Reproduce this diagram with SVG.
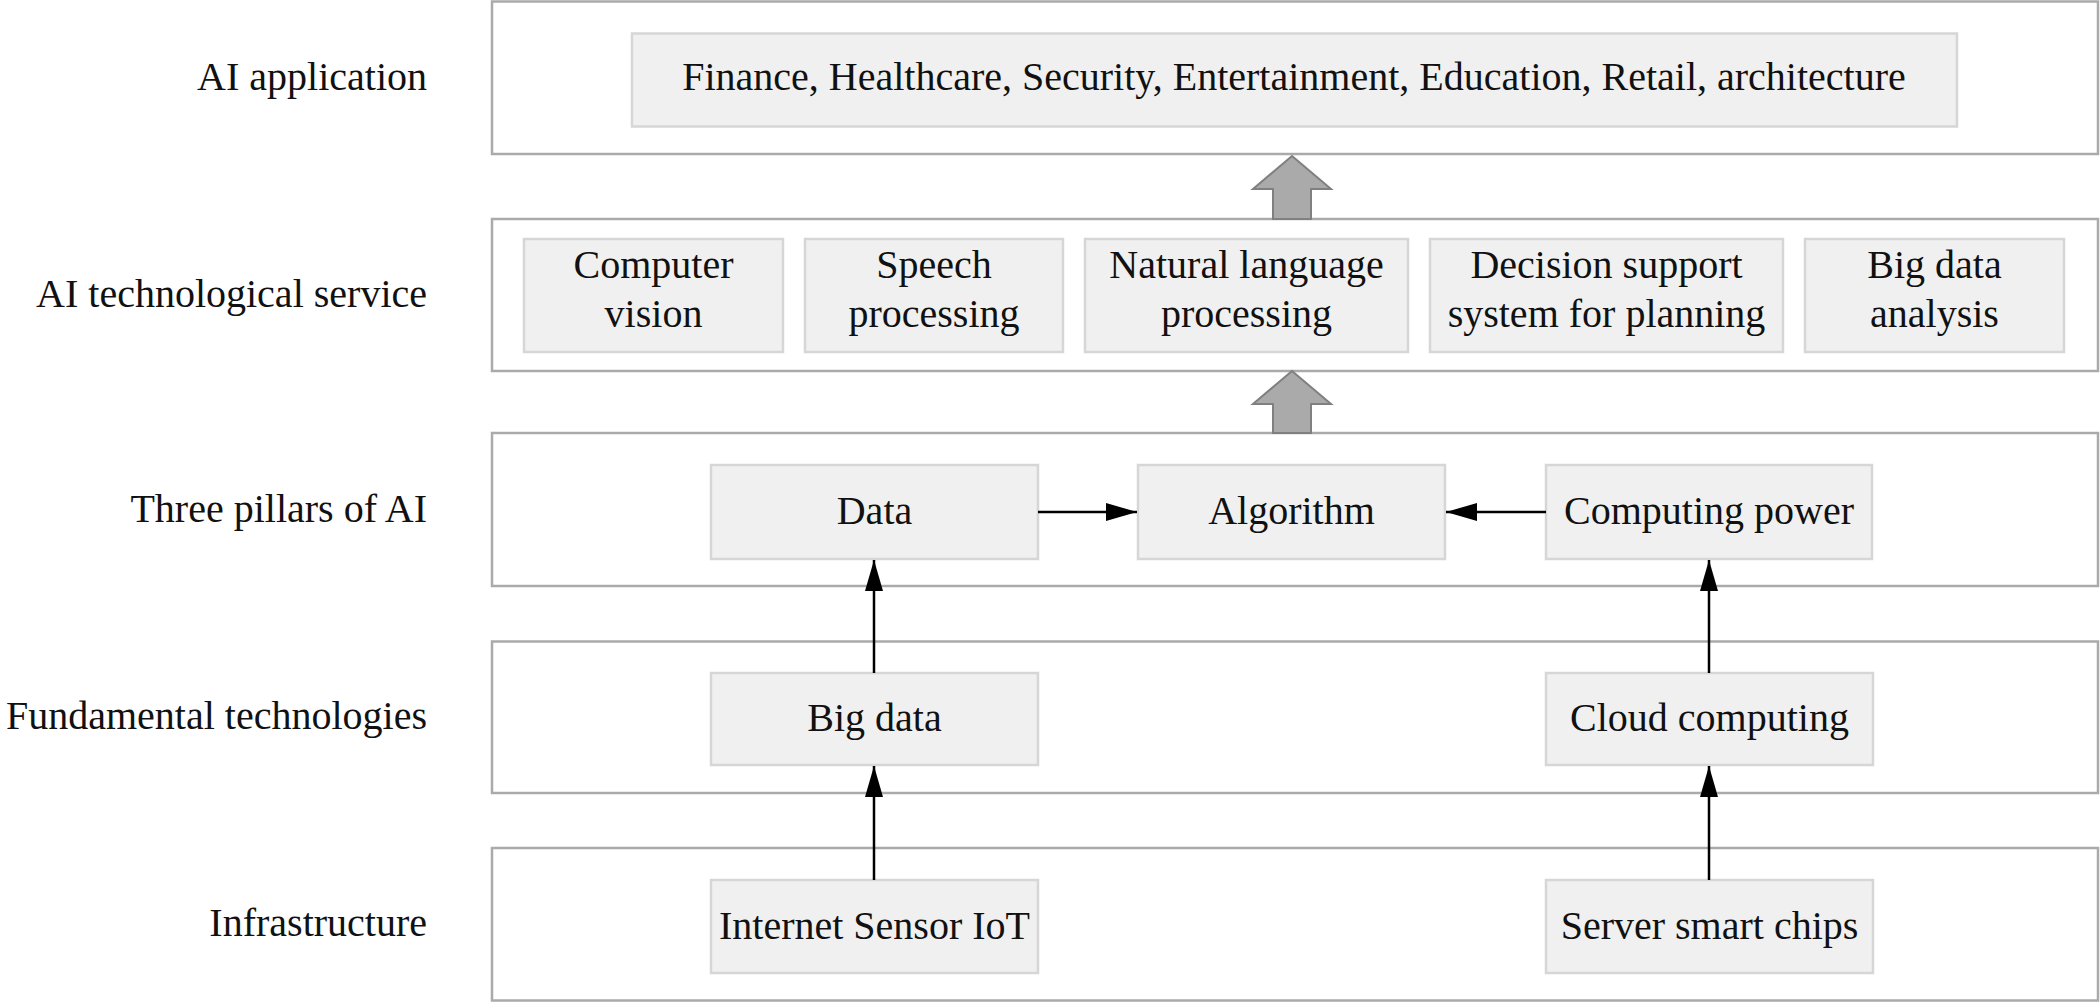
<svg xmlns="http://www.w3.org/2000/svg" width="2100" height="1003" viewBox="0 0 2100 1003">
<style>
.layer{fill:#ffffff;stroke:#aaaaaa;stroke-width:2.5}
.node{fill:#f0f0f0;stroke:#d6d6d6;stroke-width:2.5}
text{font-family:"Liberation Serif","Times New Roman",serif;font-size:40px;fill:#111111}
.lbl{text-anchor:end}
.c{text-anchor:middle}
.conn{stroke:#000000;stroke-width:2.5;fill:none}
.big{fill:#aaaaaa;stroke:#808080;stroke-width:2}
</style>
<defs>
<marker id="ah" markerUnits="userSpaceOnUse" markerWidth="32" markerHeight="20" refX="31" refY="9" orient="auto">
<path d="M0,0 L31,9 L0,18 Z" fill="#000000"/>
</marker>
</defs>
<rect fill="#ffffff" x="0" y="0" width="2100" height="1003"/>

<g id="layers">
<g id="layer-app"><rect class="layer" x="492" y="1.5" width="1606" height="152.5"/><text class="lbl" x="427" y="90">AI application</text></g>
<g id="layer-service"><rect class="layer" x="492" y="219" width="1606" height="152"/><text class="lbl" x="427" y="307">AI technological service</text></g>
<g id="layer-pillars"><rect class="layer" x="492" y="433" width="1606" height="153"/><text class="lbl" x="427" y="522">Three pillars of AI</text></g>
<g id="layer-fund"><rect class="layer" x="492" y="641.5" width="1606" height="151.5"/><text class="lbl" x="427" y="729">Fundamental technologies</text></g>
<g id="layer-infra"><rect class="layer" x="492" y="848" width="1606" height="152.5"/><text class="lbl" x="427" y="936">Infrastructure</text></g>
</g>

<g id="bigarrows">
<polygon class="big" points="1292,156 1331,189 1311,189 1311,219 1273,219 1273,189 1253,189"/>
<polygon class="big" points="1292,371 1331,404 1311,404 1311,433 1273,433 1273,404 1253,404"/>
</g>

<g id="n-apps"><rect class="node" x="632" y="33.5" width="1325" height="93"/><text class="c" x="1294" y="90">Finance, Healthcare, Security, Entertainment, Education, Retail, architecture</text></g>

<g id="n-cv"><rect class="node" x="524" y="239" width="259" height="113"/><text class="c" x="653.5" y="278">Computer</text><text class="c" x="653.5" y="327">vision</text></g>
<g id="n-speech"><rect class="node" x="805" y="239" width="258" height="113"/><text class="c" x="934" y="278">Speech</text><text class="c" x="934" y="327">processing</text></g>
<g id="n-nlp"><rect class="node" x="1085" y="239" width="323" height="113"/><text class="c" x="1246.5" y="278">Natural language</text><text class="c" x="1246.5" y="327">processing</text></g>
<g id="n-dss"><rect class="node" x="1430" y="239" width="353" height="113"/><text class="c" x="1606.5" y="278">Decision support</text><text class="c" x="1606.5" y="327">system for planning</text></g>
<g id="n-bda"><rect class="node" x="1805" y="239" width="259" height="113"/><text class="c" x="1934.5" y="278">Big data</text><text class="c" x="1934.5" y="327">analysis</text></g>

<g id="n-data"><rect class="node" x="711" y="465" width="327" height="94"/><text class="c" x="874.5" y="524">Data</text></g>
<g id="n-algo"><rect class="node" x="1138" y="465" width="307" height="94"/><text class="c" x="1291.5" y="524">Algorithm</text></g>
<g id="n-cp"><rect class="node" x="1546" y="465" width="326" height="94"/><text class="c" x="1709" y="524">Computing power</text></g>

<g id="n-bigdata"><rect class="node" x="711" y="673" width="327" height="92"/><text class="c" x="874.5" y="731">Big data</text></g>
<g id="n-cloud"><rect class="node" x="1546" y="673" width="327" height="92"/><text class="c" x="1709.5" y="731">Cloud computing</text></g>

<g id="n-iot"><rect class="node" x="711" y="880" width="327" height="93"/><text class="c" x="874.5" y="939">Internet Sensor IoT</text></g>
<g id="n-chips"><rect class="node" x="1546" y="880" width="327" height="93"/><text class="c" x="1709.5" y="939">Server smart chips</text></g>

<g id="connectors">
<line class="conn" x1="1038" y1="512" x2="1137" y2="512" marker-end="url(#ah)"/>
<line class="conn" x1="1546" y1="512" x2="1446" y2="512" marker-end="url(#ah)"/>
<line class="conn" x1="874" y1="673" x2="874" y2="560" marker-end="url(#ah)"/>
<line class="conn" x1="874" y1="880" x2="874" y2="766" marker-end="url(#ah)"/>
<line class="conn" x1="1709" y1="673" x2="1709" y2="560" marker-end="url(#ah)"/>
<line class="conn" x1="1709" y1="880" x2="1709" y2="766" marker-end="url(#ah)"/>
</g>
</svg>
